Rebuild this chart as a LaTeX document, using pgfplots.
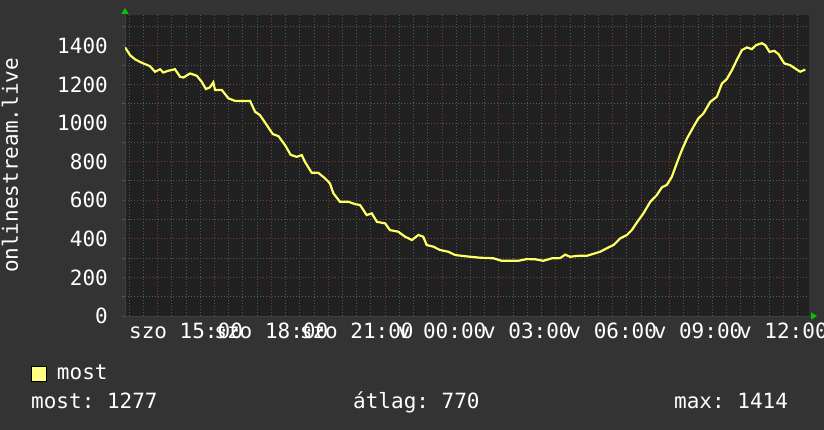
\documentclass[border=0pt]{standalone}
\usepackage{fontspec}
\setmainfont{DejaVu Sans Mono}
\usepackage{pgfplots}
\pgfplotsset{compat=1.18}
\usetikzlibrary{arrows.meta}
\definecolor{outerbg}{RGB}{51,51,51}
\definecolor{plotbg}{RGB}{32,32,32}
\definecolor{mingrid}{RGB}{88,88,88}
\definecolor{majgrid}{RGB}{130,56,56}
\definecolor{linecol}{RGB}{255,255,102}
\definecolor{legfill}{RGB}{255,255,128}
\definecolor{arrowgreen}{RGB}{0,200,0}
\definecolor{axiscol}{RGB}{62,62,62}
\newcommand{\bigf}{\fontsize{21bp}{25bp}\selectfont}
\frenchspacing
\begin{document}
\bigf\frenchspacing
\begin{tikzpicture}
\useasboundingbox (0,0) rectangle (824bp,430bp);
\fill[outerbg] (0,0) rectangle (824bp,430bp);
\begin{axis}[
  at={(125bp,114bp)}, anchor=south west,
  scale only axis, width=684bp, height=301bp,
  xmin=12.855, xmax=36.9, ymin=0, ymax=1560,
  axis background/.style={fill=plotbg},
  axis lines=left,
  axis line style={draw=axiscol, line width=1bp},
  x axis line style={-{Triangle[color=arrowgreen,length=6bp,width=7bp]}, shorten >=-8bp},
  y axis line style={-{Triangle[color=arrowgreen,length=6bp,width=7bp]}, shorten >=-7bp},
  tick align=outside,
  major tick length=3bp, minor tick length=3bp,
  tick style={majgrid, line width=1bp},
  minor tick style={mingrid, line width=1bp},
  xtick={15,18,...,36},
  xticklabels={szo 15:00, szo 18:00, szo 21:00, v 00:00, v 03:00, v 06:00, v 09:00, v 12:00},
  xtick style={draw=none},
  extra x ticks={14,16,...,36},
  extra x tick labels={},
  extra x tick style={grid=major, tick style={majgrid, line width=1bp}},
  minor xtick={13,13.5,14.5,15,15.5,16.5,17,17.5,18.5,19,19.5,20.5,21,21.5,22.5,23,23.5,24.5,25,25.5,26.5,27,27.5,28.5,29,29.5,30.5,31,31.5,32.5,33,33.5,34.5,35,35.5,36.5},
  xminorgrids,
  ytick={0,200,...,1400},
  minor ytick={100,300,...,1500},
  ymajorgrids, yminorgrids,
  major grid style={majgrid, line width=1bp, dash pattern=on 1bp off 2bp},
  minor grid style={mingrid, line width=1bp, dash pattern=on 1bp off 2bp},
  /pgf/number format/1000 sep={},
  /pgf/number format/assume math mode=true,
  tick label style={font=\bigf, text=white},
  xticklabel style={anchor=base, yshift=-19bp, inner sep=0pt},
  yticklabel style={anchor=east, xshift=-14bp, inner sep=0pt},
  ylabel={onlinestream.live},
  ylabel style={at={(axis description cs:-0.15643,0.5)}, anchor=base, font=\bigf, text=white, inner sep=0pt},
  legend style={at={(axis description cs:0,0)}, anchor=west, xshift=-94bp, yshift=-58bp,
    draw=none, fill=none, inner sep=0pt, outer sep=0pt, text=white, font=\bigf,
    column sep=10bp, nodes={inner sep=0pt}},
  legend image code/.code={\draw[fill=legfill, draw=black, line width=1bp] (0bp,-7.5bp) rectangle (15bp,7.5bp);},
]
\addplot[linecol, line width=2.2bp] table {
12.86 1392
13.03 1352
13.21 1330
13.38 1317
13.50 1309
13.73 1295
13.91 1266
14.09 1279
14.20 1262
14.38 1271
14.61 1279
14.79 1240
14.91 1236
15.14 1257
15.38 1245
15.55 1214
15.70 1176
15.84 1185
15.96 1211
16.02 1171
16.26 1171
16.49 1128
16.72 1115
17.01 1114
17.25 1115
17.43 1058
17.60 1041
17.84 989
18.05 943
18.25 932
18.48 886
18.68 835
18.89 825
19.07 834
19.18 799
19.42 742
19.65 742
19.89 713
20.06 687
20.18 636
20.41 592
20.71 592
20.94 580
21.12 575
21.35 523
21.53 532
21.71 488
22.00 480
22.17 445
22.46 437
22.70 411
22.94 394
23.17 420
23.34 411
23.46 368
23.70 359
23.93 342
24.22 333
24.46 316
24.75 311
24.99 307
25.34 302
25.81 299
26.10 286
26.39 286
26.68 286
26.98 295
27.27 294
27.56 286
27.86 299
28.15 300
28.33 318
28.50 307
28.79 312
29.09 312
29.27 320
29.56 333
29.79 351
30.03 368
30.26 402
30.50 420
30.67 445
30.85 485
31.08 532
31.32 592
31.55 627
31.73 667
31.90 679
32.08 722
32.25 791
32.43 860
32.61 920
32.84 981
33.01 1024
33.19 1050
33.43 1110
33.66 1136
33.84 1205
34.01 1228
34.19 1274
34.36 1326
34.54 1378
34.72 1392
34.89 1383
35.04 1404
35.24 1414
35.36 1404
35.51 1369
35.68 1374
35.83 1357
36.03 1309
36.24 1300
36.41 1283
36.59 1266
36.77 1277
};
\addlegendentry{most}
\end{axis}
\node[anchor=base west, text=white, inner sep=0pt] at (31bp,22bp) {most: 1277};
\node[anchor=base west, text=white, inner sep=0pt] at (353bp,22bp) {átlag: 770};
\node[anchor=base west, text=white, inner sep=0pt] at (674bp,22bp) {max: 1414};
\end{tikzpicture}
\end{document}
